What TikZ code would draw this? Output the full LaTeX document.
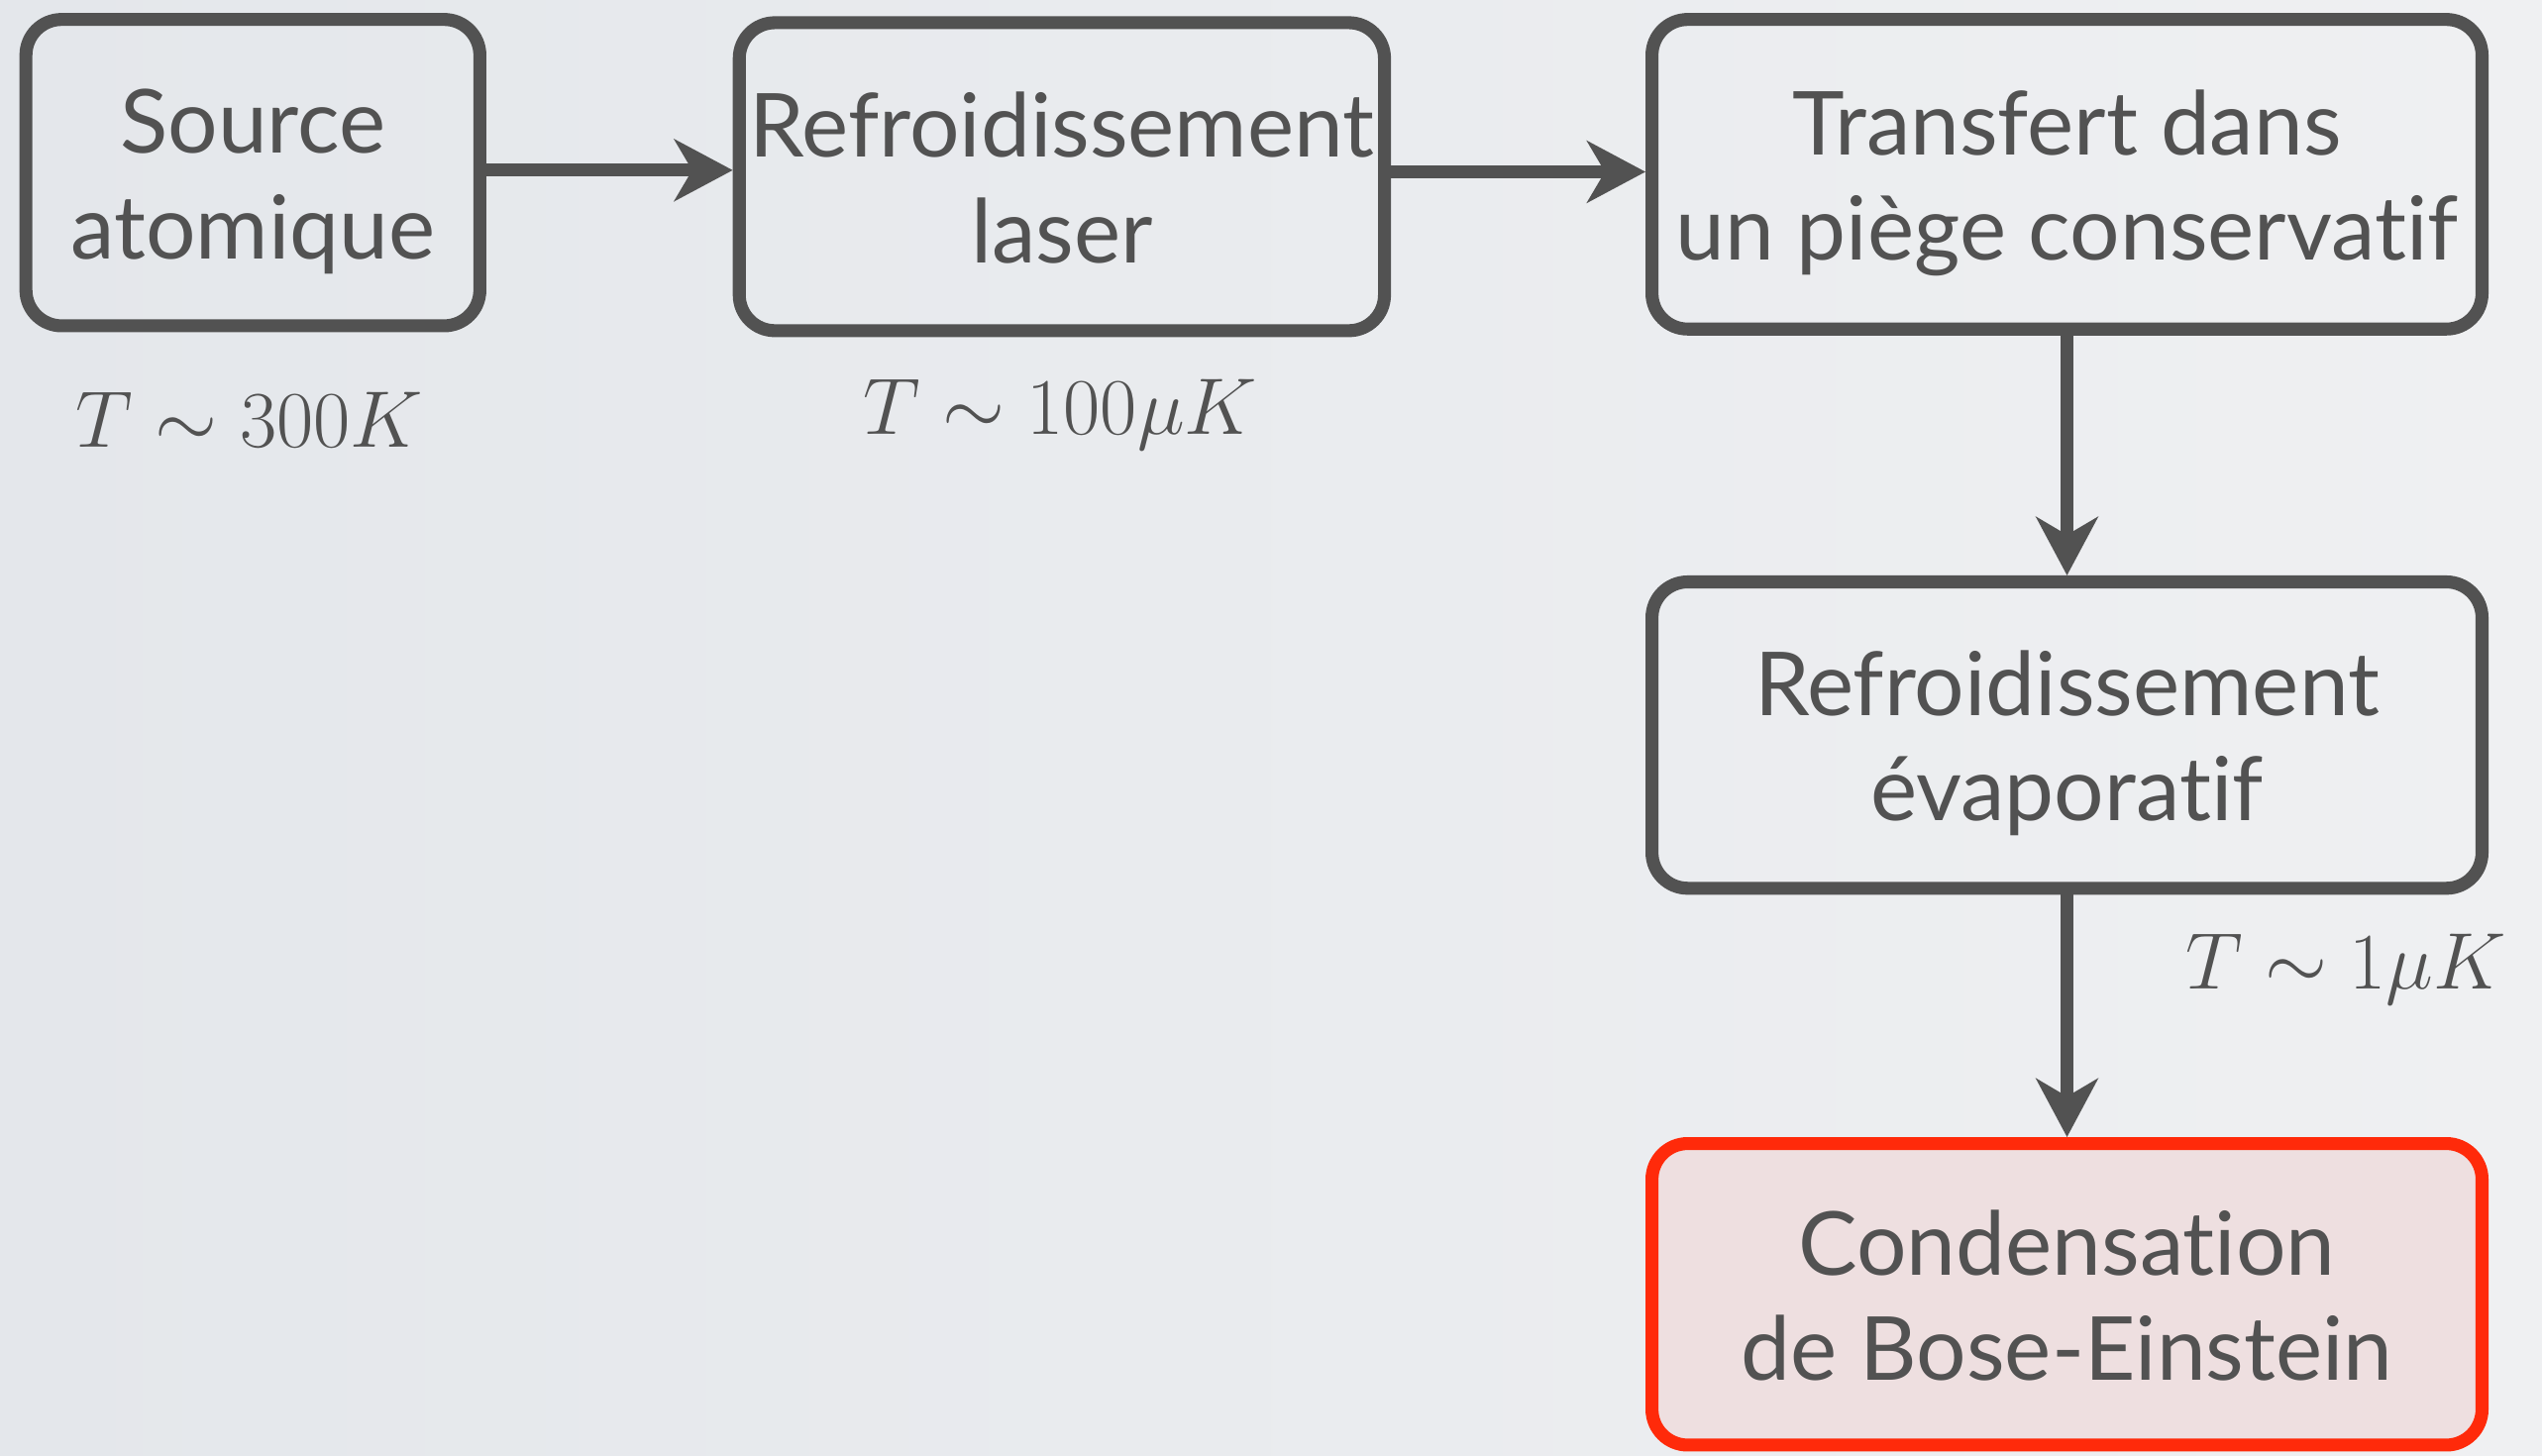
\RequirePackage{fix-cm}
\documentclass[tikz,border=0pt]{standalone}
\usepackage[no-math]{fontspec}
\setmainfont{Lato}[Ligatures={NoCommon,NoContextual}]
\usetikzlibrary{arrows.meta}
\definecolor{ink}{HTML}{525252}
\definecolor{bgL}{HTML}{E4E7EB}
\definecolor{bgR}{HTML}{EFF0F2}
\definecolor{redline}{HTML}{FF2A0A}
\definecolor{redfill}{HTML}{EEDFE0}
\newcommand{\twolines}[2]{\raisebox{-7.5pt}[\height][\depth]{\begin{tabular}{@{}c@{}}#1\\#2\end{tabular}}}
\begin{document}
\begin{tikzpicture}[x=1pt,y=-1pt,
  stage/.style={draw=ink, line width=8pt, rounded corners=22pt, align=center,
    text=ink, font=\fontsize{54.5}{65}\selectfont, inner sep=0pt},
  goal/.style={stage, draw=redline, fill=redfill},
  flow/.style={draw=ink, line width=8pt, -{Stealth[length=36pt,width=38pt,inset=11pt]}},
  temp/.style={text=ink, font=\fontsize{49.5}{54}\selectfont, inner sep=0pt}]
\shade[left color=bgL, right color=bgR] (0,0) rectangle (1568,898);
\useasboundingbox (0,0) rectangle (1568,898);

\node[stage, minimum width=280pt, minimum height=189pt] (b1) at (156,106.5) {\twolines{Source}{atomique}};
\node[stage, minimum width=398pt, minimum height=190pt] (b2) at (655,109) {\twolines{Refroidissement}{laser}};
\node[stage, minimum width=512pt, minimum height=191pt] (b3) at (1275,107.5) {\twolines{Transfert dans}{un piège conservatif}};
\node[stage, minimum width=512pt, minimum height=189pt] (b4) at (1275,453.5) {\twolines{Refroidissement}{évaporatif}};
\node[goal, minimum width=512pt, minimum height=186pt] (b5) at (1275,798.5) {\twolines{Condensation}{de Bose-Einstein}};

\node[temp] (t1) at (154,259) {$T\sim300K$};
\node[temp] (t2) at (654,256) {$T\sim100\mu K$};
\node[temp] (t3) at (1447,598) {$T\sim1\mu K$};

\coordinate (a1) at ([yshift=1.5pt]b1.east);
\draw[flow] (a1) -- (a1 -| b2.west);
\coordinate (a2) at ([yshift=3pt]b2.east);
\draw[flow] (a2) -- (a2 -| b3.west);
\draw[flow] (b3.south) -- (b4.north);
\draw[flow] (b4.south) -- (b5.north);
\end{tikzpicture}
\end{document}
